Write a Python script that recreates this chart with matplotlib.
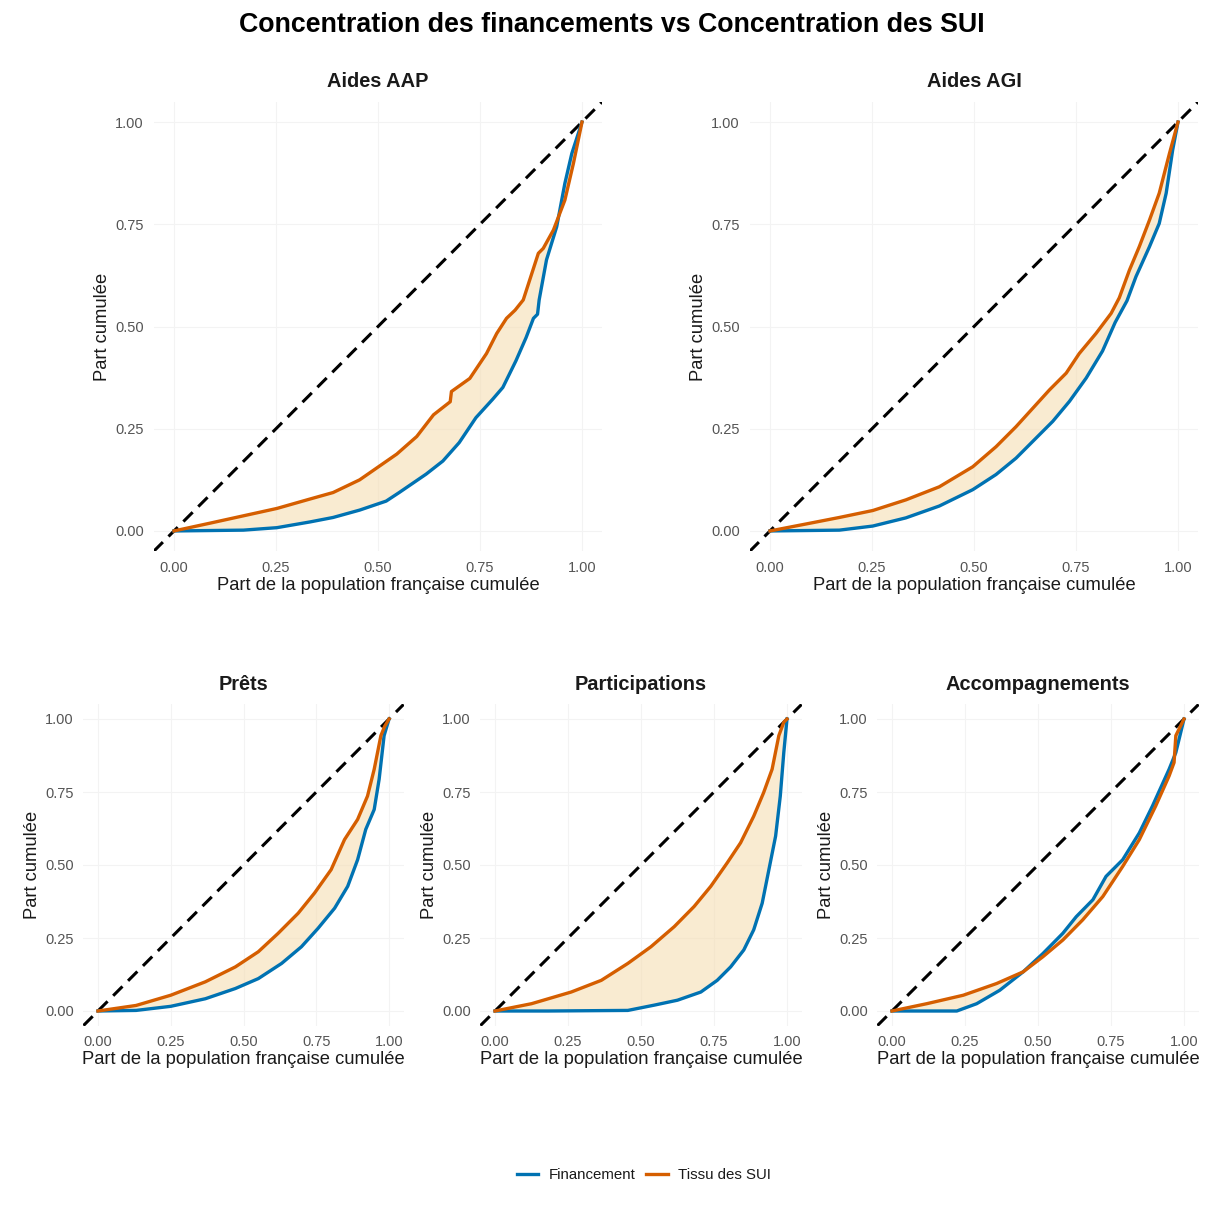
import numpy as np
import matplotlib
matplotlib.use("Agg")
import matplotlib.pyplot as plt
from matplotlib.lines import Line2D

plt.rcParams['font.family'] = ['Liberation Sans', 'DejaVu Sans']

# ---- Lorenz curves: cumulative population share (x) vs cumulative share (y)
panel_titles = ["Aides AAP", "Aides AGI", "Prêts", "Participations", "Accompagnements"]

aap_fin_x = [0, 0.170, 0.252, 0.333, 0.39, 0.455, 0.520, 0.552, 0.618, 0.659, 0.699, 0.740, 0.781, 0.806, 0.838, 0.863, 0.881, 0.891, 0.895, 0.913, 0.938, 0.958, 0.975, 1.0]
aap_fin_y = [0, 0.002, 0.008, 0.022, 0.033, 0.051, 0.073, 0.094, 0.139, 0.171, 0.216, 0.277, 0.322, 0.351, 0.416, 0.473, 0.52, 0.530, 0.565, 0.663, 0.744, 0.850, 0.923, 1.0]
aap_sui_x = [0, 0.088, 0.170, 0.252, 0.333, 0.39, 0.455, 0.546, 0.595, 0.636, 0.677, 0.680, 0.725, 0.766, 0.791, 0.815, 0.836, 0.856, 0.893, 0.905, 0.930, 0.958, 0.979, 1.0]
aap_sui_y = [0, 0.019, 0.037, 0.055, 0.078, 0.094, 0.125, 0.188, 0.231, 0.284, 0.316, 0.341, 0.373, 0.434, 0.483, 0.52, 0.540, 0.565, 0.679, 0.691, 0.736, 0.809, 0.899, 1.0]

agi_fin_x = [0, 0.170, 0.252, 0.333, 0.415, 0.497, 0.554, 0.603, 0.652, 0.693, 0.734, 0.775, 0.815, 0.846, 0.875, 0.897, 0.930, 0.954, 0.971, 0.987, 1.0]
agi_fin_y = [0, 0.002, 0.012, 0.032, 0.061, 0.101, 0.138, 0.178, 0.227, 0.268, 0.317, 0.374, 0.440, 0.510, 0.563, 0.622, 0.695, 0.752, 0.826, 0.932, 1.0]
agi_sui_x = [0, 0.088, 0.170, 0.252, 0.333, 0.415, 0.497, 0.554, 0.603, 0.644, 0.685, 0.726, 0.758, 0.799, 0.836, 0.856, 0.881, 0.905, 0.930, 0.954, 0.979, 1.0]
agi_sui_y = [0, 0.017, 0.033, 0.050, 0.076, 0.108, 0.157, 0.206, 0.255, 0.300, 0.345, 0.386, 0.434, 0.483, 0.532, 0.570, 0.638, 0.695, 0.760, 0.826, 0.923, 1.0]

prets_fin_x = [0, 0.131, 0.25, 0.369, 0.472, 0.551, 0.631, 0.699, 0.756, 0.813, 0.858, 0.892, 0.92, 0.949, 0.966, 0.983, 1.0]
prets_fin_y = [0, 0.002, 0.016, 0.042, 0.077, 0.111, 0.163, 0.22, 0.283, 0.352, 0.427, 0.518, 0.622, 0.69, 0.794, 0.943, 1.0]
prets_sui_x = [0, 0.131, 0.25, 0.369, 0.472, 0.551, 0.619, 0.688, 0.744, 0.801, 0.847, 0.892, 0.926, 0.949, 0.972, 0.985, 1.0]
prets_sui_y = [0, 0.019, 0.054, 0.1, 0.151, 0.203, 0.266, 0.335, 0.404, 0.484, 0.587, 0.656, 0.736, 0.828, 0.943, 0.975, 1.0]

part_fin_x = [0, 0.182, 0.455, 0.545, 0.625, 0.705, 0.761, 0.807, 0.852, 0.886, 0.915, 0.938, 0.961, 0.977, 0.989, 1.0]
part_fin_y = [0, 0.0, 0.002, 0.02, 0.037, 0.065, 0.105, 0.151, 0.209, 0.278, 0.369, 0.484, 0.599, 0.736, 0.885, 1.0]
part_sui_x = [0, 0.125, 0.261, 0.364, 0.455, 0.534, 0.614, 0.682, 0.739, 0.795, 0.841, 0.886, 0.92, 0.949, 0.972, 0.989, 1.0]
part_sui_y = [0, 0.025, 0.065, 0.105, 0.163, 0.22, 0.289, 0.358, 0.427, 0.507, 0.576, 0.667, 0.748, 0.828, 0.943, 0.989, 1.0]

acc_fin_x = [0, 0.222, 0.29, 0.369, 0.449, 0.517, 0.585, 0.631, 0.688, 0.733, 0.79, 0.847, 0.892, 0.949, 0.972, 1.0]
acc_fin_y = [0, 0.0, 0.025, 0.071, 0.134, 0.197, 0.266, 0.323, 0.381, 0.461, 0.518, 0.61, 0.702, 0.828, 0.885, 1.0]
acc_sui_x = [0, 0.119, 0.244, 0.358, 0.449, 0.517, 0.585, 0.653, 0.722, 0.79, 0.847, 0.903, 0.949, 0.966, 0.972, 1.0]
acc_sui_y = [0, 0.025, 0.054, 0.094, 0.134, 0.186, 0.243, 0.312, 0.392, 0.495, 0.587, 0.702, 0.805, 0.851, 0.943, 1.0]

curves = [
    (aap_fin_x, aap_fin_y, aap_sui_x, aap_sui_y),
    (agi_fin_x, agi_fin_y, agi_sui_x, agi_sui_y),
    (prets_fin_x, prets_fin_y, prets_sui_x, prets_sui_y),
    (part_fin_x, part_fin_y, part_sui_x, part_sui_y),
    (acc_fin_x, acc_fin_y, acc_sui_x, acc_sui_y),
]

ticks = [0, 0.25, 0.5, 0.75, 1.0]
tick_labels = ["0.00", "0.25", "0.50", "0.75", "1.00"]
series_names = ["Financement", "Tissu des SUI"]

BLUE = "#0072B2"
ORANGE = "#D55E00"
FILL = "#F5DEB3"
W, H = 1212, 1211

fig = plt.figure(figsize=(W / 100, H / 100), dpi=100)

# panel boxes in pixels: left, top, right, bottom
boxes = [
    (153.6, 101.6, 602.4, 551.4),
    (749.6, 101.6, 1198.4, 551.4),
    (83.4, 704.4, 403.6, 1025.6),
    (480.4, 704.4, 801.6, 1025.6),
    (877.4, 704.4, 1198.6, 1025.6),
]

for title, (l, t, r, b), (fx, fy, sx, sy) in zip(panel_titles, boxes, curves):
    ax = fig.add_axes([l / W, 1 - b / H, (r - l) / W, (b - t) / H])
    wpx, hpx = r - l, b - t
    ax.set_xlim(-0.05, 1.05)
    ax.set_ylim(-0.05, 1.05)
    for s in ax.spines.values():
        s.set_visible(False)
    ax.grid(True, color="#F3F3F3", lw=0.8)
    ax.set_axisbelow(True)
    ax.set_xticks(ticks)
    ax.set_xticklabels(tick_labels)
    ax.set_yticks(ticks)
    ax.set_yticklabels(tick_labels)
    ax.tick_params(length=0, pad=7, labelcolor="#555555", labelsize=10.5)

    # ribbon between the two curves
    poly_x = list(sx) + list(fx)[::-1]
    poly_y = list(sy) + list(fy)[::-1]
    ax.fill(poly_x, poly_y, color=FILL, alpha=0.6, lw=0, zorder=1)

    ax.axline((0, 0), (1, 1), color="black", lw=2.2, linestyle=(0, (4.3, 2.6)), zorder=2)
    ax.plot(fx, fy, color=BLUE, lw=2.4, zorder=3, solid_joinstyle="round")
    ax.plot(sx, sy, color=ORANGE, lw=2.4, zorder=4, solid_joinstyle="round")

    ax.set_xlabel("Part de la population française cumulée", fontsize=13.2, color="#1A1A1A")
    ax.set_ylabel("Part cumulée", fontsize=13.2, color="#1A1A1A")
    ax.xaxis.set_label_coords(0.5, -33.6 / hpx)
    ax.yaxis.set_label_coords(-51 / wpx, 0.5)
    ax.xaxis.label.set_va("center")
    ax.yaxis.label.set_va("center")
    ax.text(0.5, 1 + 20 / hpx, title, transform=ax.transAxes, ha="center", va="center",
            fontsize=14.4, fontweight="bold", color="#1A1A1A")

fig.text(612 / W, 1 - 25 / H, "Concentration des financements vs Concentration des SUI",
         ha="center", va="center", fontsize=19.3, fontweight="bold", color="black")

handles = [Line2D([], [], color=BLUE, lw=2.4), Line2D([], [], color=ORANGE, lw=2.4)]
fig.legend(handles, series_names, loc="center", bbox_to_anchor=(644 / W, 1 - 1175 / H),
           ncol=2, frameon=False, fontsize=10.8, handlelength=1.45, columnspacing=0.7,
           handletextpad=0.7, labelcolor="#1A1A1A")

fig.savefig("out.png", dpi=100)
